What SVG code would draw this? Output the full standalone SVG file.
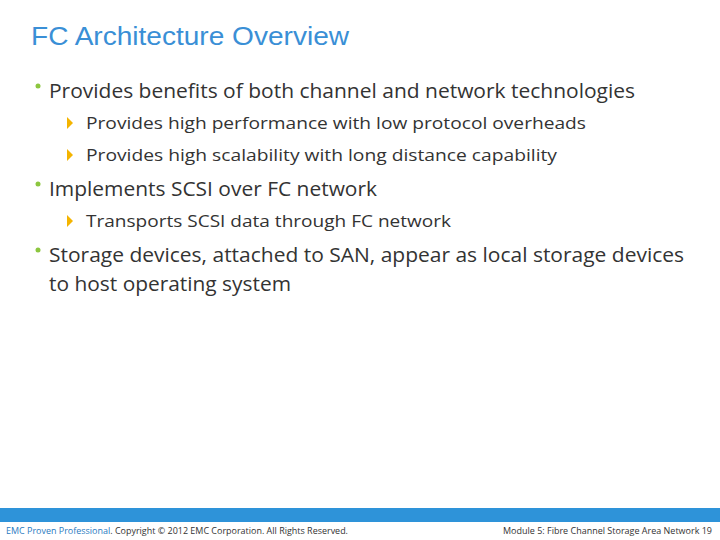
<svg xmlns="http://www.w3.org/2000/svg" width="720" height="540" viewBox="0 0 720 540">
<style>
.t{font-family:"Liberation Sans",Arial,sans-serif;font-size:26px;fill:#3a8fd6}
.b{font-family:"Open Sans","Noto Sans",sans-serif;font-size:20px;fill:#333}
.s{font-family:"Open Sans","Noto Sans",sans-serif;font-size:17px;fill:#333}
.f{font-family:"Open Sans","Noto Sans",sans-serif;font-size:8.5px;fill:#333}
.dot{fill:#8cc63f}.tri{fill:#f4b400}
</style>
<rect width="720" height="540" fill="#fff"/>
<text class="t" x="31" y="45" textLength="318" lengthAdjust="spacingAndGlyphs">FC Architecture Overview</text>
<circle class="dot" cx="38" cy="86" r="2.5"/>
<text class="b" x="49" y="98" textLength="586" lengthAdjust="spacingAndGlyphs">Provides benefits of both channel and network technologies</text>
<path class="tri" d="M67,117 L73,123 L67,129Z"/>
<text class="s" x="86" y="129" textLength="500" lengthAdjust="spacingAndGlyphs">Provides high performance with low protocol overheads</text>
<path class="tri" d="M67,149 L73,155 L67,161Z"/>
<text class="s" x="86" y="161" textLength="471" lengthAdjust="spacingAndGlyphs">Provides high scalability with long distance capability</text>
<circle class="dot" cx="38" cy="184" r="2.5"/>
<text class="b" x="49" y="196" textLength="328" lengthAdjust="spacingAndGlyphs">Implements SCSI over FC network</text>
<path class="tri" d="M67,215 L73,221 L67,227Z"/>
<text class="s" x="86" y="227" textLength="365" lengthAdjust="spacingAndGlyphs">Transports SCSI data through FC network</text>
<circle class="dot" cx="38" cy="250" r="2.5"/>
<text class="b" x="49" y="262" textLength="635" lengthAdjust="spacingAndGlyphs">Storage devices, attached to SAN, appear as local storage devices</text>
<text class="b" x="49" y="291" textLength="242" lengthAdjust="spacingAndGlyphs">to host operating system</text>
<rect x="0" y="508" width="720" height="14" fill="#2e93d9"/>
<text class="f" x="6" y="534" textLength="342" lengthAdjust="spacingAndGlyphs"><tspan fill="#2a7bbf">EMC Proven Professional</tspan>. Copyright © 2012 EMC Corporation. All Rights Reserved.</text>
<text class="f" x="503" y="534" textLength="209" lengthAdjust="spacingAndGlyphs">Module 5: Fibre Channel Storage Area Network   19</text>
</svg>
